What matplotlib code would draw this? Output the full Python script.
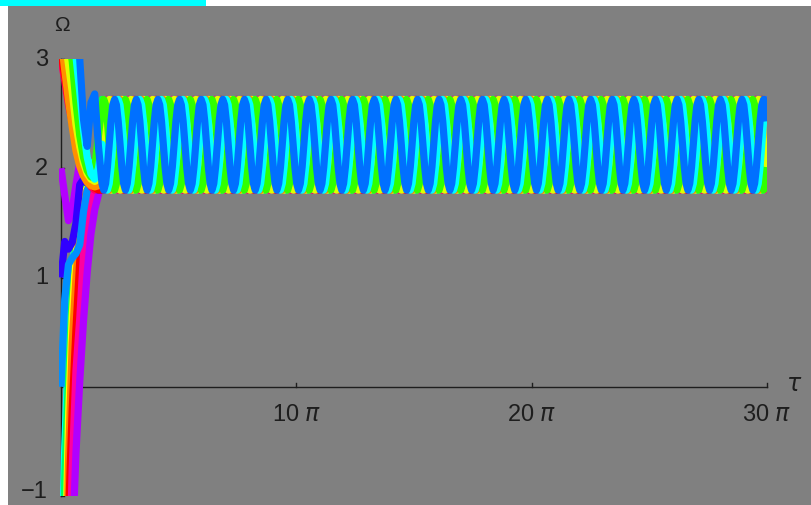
import numpy as np
import matplotlib
matplotlib.use("Agg")
import matplotlib.pyplot as plt
from matplotlib.patches import Rectangle

# start-up knots (tau) shared by every trajectory
early_tau = [0, 0.5, 1, 1.5, 2, 2.5, 3, 3.5, 4, 4.5, 5]

# one period of the limit cycle, starting at the peak
cycle_omega = [2.63, 2.58, 2.43, 2.22, 2.01, 1.86, 1.80, 1.86, 2.01, 2.22, 2.43, 2.58]
period = 2.888
first_peak = 4.269
tau_max = 30 * np.pi

# trajectories in drawing order (last one ends on top)
curve_colors = [
    # rising from below -1
    '#00ffff', '#00ff60', '#ffff00', '#ff8000', '#ff0000', '#ff00a0', '#b000ff',
    # starting inside the window
    '#b400ff', '#3000ff', '#0090ff',
    # coming down from above 3
    '#ff0060', '#ff0000', '#ff9000', '#e0ff00', '#30ff00', '#00ffff', '#0070ff',
]
curve_start = [
    [-2.0, -0.55, 0.35, 1.0, 1.45, 1.75, 1.92, 2.0, 2.05, 2.0, 1.95],
    [-3.5, -0.85, 0.1, 0.85, 1.35, 1.65, 1.8, 1.9, 1.95, 1.95, 1.9],
    [-4.5, -1.9, -0.3, 0.65, 1.2, 1.55, 1.75, 1.82, 1.85, 1.86, 1.85],
    [-5.0, -2.6, -0.7, 0.4, 1.0, 1.45, 1.7, 1.8, 1.82, 1.82, 1.8],
    [-5.5, -3.2, -1.2, -0.2, 0.53, 1.15, 1.5, 1.75, 1.82, 1.82, 1.8],
    [-6.0, -3.8, -2.0, -0.75, 0.15, 0.62, 1.2, 1.5, 1.72, 1.78, 1.8],
    [-6.5, -4.5, -3.0, -1.5, -0.6, 0.05, 0.6, 1.05, 1.4, 1.62, 1.76],
    [2.0, 1.75, 1.52, 1.62, 1.85, 2.05, 2.0, 1.92, 1.86, 1.83, 1.82],
    [1.0, 1.33, 1.26, 1.32, 1.5, 1.85, 1.9, 1.86, 1.83, 1.81, 1.8],
    [0.0, 0.8, 1.12, 1.18, 1.22, 1.3, 1.6, 1.8, 1.86, 1.88, 1.92],
    [3.0, 2.8, 2.58, 2.42, 2.25, 2.1, 1.97, 1.88, 1.83, 1.8, 1.82],
    [3.05, 2.85, 2.62, 2.42, 2.25, 2.12, 2.0, 1.92, 1.86, 1.82, 1.8],
    [3.2, 2.9, 2.62, 2.38, 2.16, 2.02, 1.93, 1.87, 1.84, 1.83, 1.84],
    [3.5, 3.2, 2.95, 2.7, 2.4, 2.2, 2.05, 1.95, 1.9, 1.88, 1.9],
    [3.7, 3.45, 3.2, 2.98, 2.6, 2.3, 2.1, 1.98, 1.92, 2.0, 2.3],
    [4.0, 3.75, 3.5, 3.25, 3.02, 2.7, 2.35, 2.1, 1.95, 1.9, 2.0],
    [4.4, 4.1, 3.8, 3.5, 3.25, 3.0, 2.45, 2.2, 2.6, 2.68, 2.2],
]
# phase lag of each trajectory on the cycle, in cycle samples
curve_shift = [6, 5, 4, 3, 8, 7, 9, 10, 11, 1, 0, 11, 10, 9, 6, 2, 0]

fig = plt.figure(figsize=(8.12, 5.06), dpi=100)
fig.patch.set_facecolor('white')
fig.patches.append(Rectangle((8 / 812, 0), 1 - 8 / 812, 499 / 506, transform=fig.transFigure,
                             facecolor='#808080', edgecolor='none', zorder=-10))
fig.patches.append(Rectangle((0, 499 / 506), 206 / 812, 7 / 506, transform=fig.transFigure,
                             facecolor='#00ffff', edgecolor='none', zorder=-10))

ax = fig.add_axes([61 / 812, 9 / 506, 706 / 812, 437 / 506])
ax.set_xlim(0, tau_max)
ax.set_ylim(-1, 3)
ax.axis('off')

ink = '#1e1e1e'
# axes, Mathematica style
ax.plot([0, tau_max], [0, 0], color=ink, lw=1.0, zorder=1, clip_on=False)
ax.plot([0, 0], [-1, 3], color=ink, lw=1.0, zorder=1, clip_on=False)
for t in [10 * np.pi, 20 * np.pi, 30 * np.pi]:
    ax.plot([t, t], [0, 0.035], color=ink, lw=1.0, zorder=1, clip_on=False)
for v in [-1, 1, 2, 3]:
    ax.plot([0, 0.45], [v, v], color=ink, lw=1.0, zorder=1, clip_on=False)

clip = Rectangle((-0.3, -1), tau_max + 0.3, 4, transform=ax.transData)
step = period / len(cycle_omega)
k = np.arange(5, int((tau_max - first_peak) / step) + 2)
cycle_tau = first_peak + k * step
cyc = np.array(cycle_omega)
for col, start, sh in zip(curve_colors, curve_start, curve_shift):
    t = np.concatenate([early_tau, cycle_tau])
    w = np.concatenate([start, cyc[(k - sh) % len(cyc)]])
    line, = ax.plot(t, w, color=col, lw=5.2, solid_capstyle='butt',
                    solid_joinstyle='round', zorder=2)
    line.set_clip_path(clip)

font = 'Liberation Sans'
for v, pos, lab in zip([3, 2, 1, -1], [3, 2, 1, -0.955], ['3', '2', '1', '\u22121']):
    ax.text(-1.75, pos, lab, ha='right', va='center', fontsize=17, color=ink,
            family=font, clip_on=False)
for m in [10, 20, 30]:
    ax.text(m * np.pi, -0.245, '%d $\\pi$' % m, ha='center', va='center',
            fontsize=17, color=ink, family=font, clip_on=False)
ax.text(97.9, 0.03, r'$\tau$', ha='center', va='center', fontsize=17,
        color=ink, clip_on=False)
ax.text(0.13, 3.32, '\u03a9', ha='center', va='center', fontsize=15,
        color=ink, family=font, clip_on=False)

fig.savefig('out.png', dpi=100)
